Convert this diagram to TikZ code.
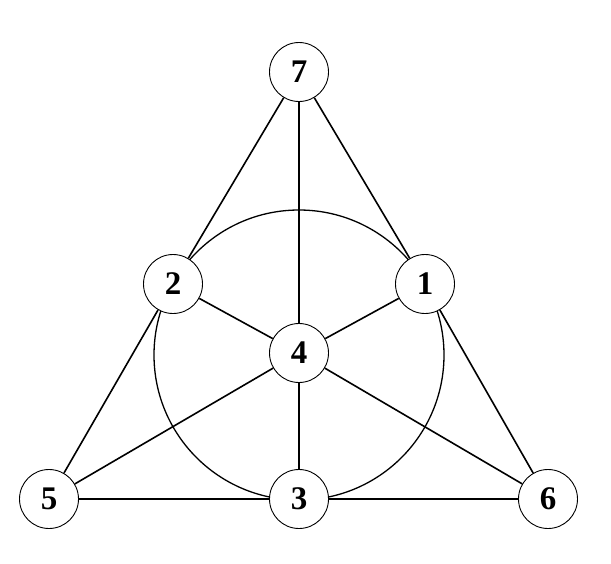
\documentclass[tikz,border=0pt]{standalone}
\usepackage{fontspec}
\setmainfont{Liberation Serif}
\begin{document}
\begin{tikzpicture}[x=1pt,y=-1pt,
  pt/.style={circle,draw,fill=white,line width=0.9pt,minimum size=59pt,inner sep=0pt,font=\fontsize{33}{33}\selectfont\bfseries},
  ln/.style={line width=1.6pt}]
\useasboundingbox (0,0) rectangle (611,563);
\coordinate (c) at (299,355);
\draw[line width=1.3pt] (c) circle[radius=145];
\node[pt] (n7) at (299,72) {7};
\node[pt] (n2) at (173,284) {2};
\node[pt] (n1) at (425,284) {1};
\node[pt] (n4) at (299,353) {4};
\node[pt] (n5) at (49,499) {5};
\node[pt] (n3) at (299,499) {3};
\node[pt] (n6) at (548,499) {6};
\draw[ln] (n7) -- (n2);
\draw[ln] (n2) -- (n5);
\draw[ln] (n7) -- (n4);
\draw[ln] (n4) -- (n3);
\draw[ln] (n7) -- (n1);
\draw[ln] (n1) -- (n6);
\draw[ln] (n5) -- (n3);
\draw[ln] (n3) -- (n6);
\draw[ln] (n5) -- (n4);
\draw[ln] (n4) -- (n1);
\draw[ln] (n6) -- (n4);
\draw[ln] (n4) -- (n2);
\end{tikzpicture}
\end{document}
